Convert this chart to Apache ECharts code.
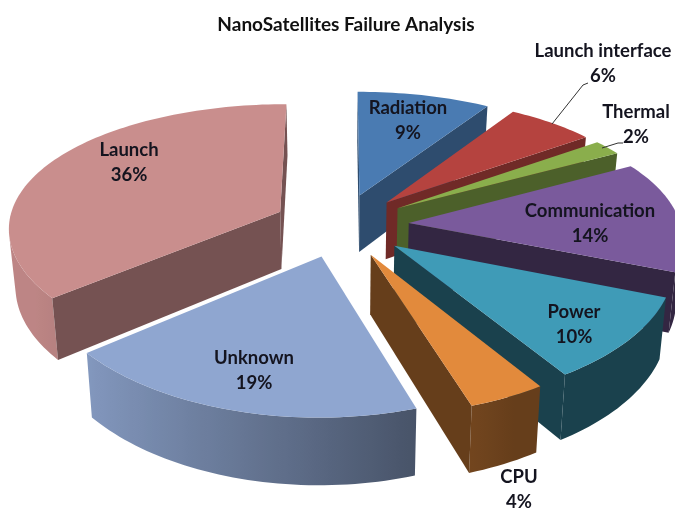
<!DOCTYPE html>
<html>
<head>
<meta charset="utf-8">
<script src="https://cdn.jsdelivr.net/npm/echarts@6/dist/echarts.min.js"></script>
<style>
html, body { margin: 0; padding: 0; background: #fff; }
#chart { width: 675px; height: 511px; }
</style>
</head>
<body>
<div id="chart"></div>
<script>
const categories = ['Radiation', 'Launch interface', 'Thermal', 'Communication', 'Power', 'CPU', 'Unknown', 'Launch']
const values = [9, 6, 2, 14, 10, 4, 19, 36]

const topColors = ['#4a7bb2', '#b5433f', '#8aae4c', '#7a5a9c', '#3f9bb7', '#e28a3c', '#8fa6d0', '#c98e8d']
const wallFloor = [0.62, 0.62, 0.55, 0.42, 0.42, 0.45, 0.45, 0.58]
const labelPos = [[408, 121], [603, 64], [636, 125], [590, 224], [574, 325], [519, 490], [254, 371], [129, 163]]

// projection of the tilted pie
const cx = 341, cy = 225, rx = 272, ry = 127, perspX = 0.115, perspY = 0.147, explode = 0.25, depth = 58

const total = values.reduce((a, b) => a + b, 0)
let acc = 0
const slices = values.map((v, i) => {
  const a0 = acc / total * Math.PI * 2
  acc += v
  const a1 = acc / total * Math.PI * 2
  const mid = (a0 + a1) / 2
  return {i, a0, a1, ox: Math.sin(mid) * explode, oy: Math.cos(mid) * explode}
})
// back slices are painted first
const drawOrder = slices.slice().sort((a, b) => b.oy - a.oy).map(s => s.i)

function project(X, Y, low) {
  const sx = 1 / (1 + perspX * Y)
  const sy = 1 / (1 + perspY * Y)
  let x = cx + rx * X * sx
  let y = cy - ry * Y * sy
  if (low) {
    x = cx + (x - cx) * 0.98
    y += depth * sx
  }
  return [x, y]
}

function shade(hex, f) {
  const n = parseInt(hex.slice(1), 16)
  const c = [n >> 16, (n >> 8) & 255, n & 255].map(v => Math.round(v * f))
  return 'rgb(' + c.join(',') + ')'
}

function area(p) {
  let t = 0
  for (let i = 0; i < p.length; i++) {
    const q = p[(i + 1) % p.length]
    t += p[i][0] * q[1] - q[0] * p[i][1]
  }
  return t / 2
}

function wallShade(idx, a) {
  // outer wall is lit from the left
  return Math.max(wallFloor[idx], Math.min(0.94, 0.62 - 0.38 * Math.sin(a)))
}

function renderSlice(params, api) {
  const idx = api.value(0)
  const s = slices[idx]
  const top = topColors[idx]
  const children = []
  const steps = Math.max(4, Math.round((s.a1 - s.a0) * 40))

  const rim = []
  for (let k = 0; k <= steps; k++) {
    const a = s.a0 + (s.a1 - s.a0) * k / steps
    rim.push([s.ox + Math.sin(a), s.oy + Math.cos(a), a])
  }

  // only the part of the outer wall that faces us
  const front = []
  for (let k = 0; k < steps; k++) {
    const p = rim[k], q = rim[k + 1]
    const pts = [project(p[0], p[1]), project(p[0], p[1], true), project(q[0], q[1], true), project(q[0], q[1])]
    if (area(pts) > 0) {
      if (!front.length) front.push(p)
      front.push(q)
    }
  }
  if (front.length > 1) {
    const upper = front.map(p => project(p[0], p[1]))
    const lower = front.map(p => project(p[0], p[1], true)).reverse()
    const xs = upper.map(p => p[0])
    const x0 = Math.min.apply(null, xs), x1 = Math.max.apply(null, xs)
    const stops = front.map((p, k) => ({
      offset: (xs[k] - x0) / Math.max(x1 - x0, 1),
      color: shade(top, wallShade(idx, p[2]))
    })).sort((a, b) => a.offset - b.offset)
    children.push({
      type: 'polygon',
      shape: {points: upper.concat(lower)},
      style: {fill: new echarts.graphic.LinearGradient(x0, 0, x1, 0, stops, true)}
    })
  }

  // the two cut faces
  const first = rim[0], last = rim[steps]
  const faces = [
    [project(s.ox, s.oy), project(s.ox, s.oy, true), project(first[0], first[1], true), project(first[0], first[1])],
    [project(s.ox, s.oy), project(last[0], last[1]), project(last[0], last[1], true), project(s.ox, s.oy, true)]
  ]
  faces.forEach(pts => {
    if (area(pts) > 0) {
      children.push({type: 'polygon', shape: {points: pts}, style: {fill: shade(top, wallFloor[idx])}})
    }
  })

  const cap = [project(s.ox, s.oy)].concat(rim.map(p => project(p[0], p[1])))
  children.push({type: 'polygon', shape: {points: cap}, style: {fill: top}})
  return {type: 'group', children: children}
}

const textElements = categories.map((name, i) => ({
  type: 'text',
  x: labelPos[i][0],
  y: labelPos[i][1],
  z: 10,
  style: {
    text: name + '\n' + values[i] + '%',
    font: 'bold 18.5px Lato, "Open Sans", sans-serif',
    lineHeight: 25,
    fill: '#14141f',
    align: 'center',
    verticalAlign: 'middle'
  }
}))

const leaderLines = [
  [[552, 124], [583, 85], [588, 83]],
  [[602, 148], [618, 143], [623, 143]]
].map(points => ({
  type: 'polyline',
  z: 10,
  shape: {points: points},
  style: {stroke: '#333', lineWidth: 1, fill: null}
}))

const myChart = echarts.init(document.getElementById('chart'))
myChart.setOption({
  animation: false,
  backgroundColor: '#fff',
  title: {
    text: 'NanoSatellites Failure Analysis',
    left: 341,
    top: 10,
    textAlign: 'center',
    textStyle: {fontFamily: 'Lato', fontWeight: 'bold', fontSize: 19, color: '#111'}
  },
  series: [{
    type: 'custom',
    coordinateSystem: 'none',
    renderItem: renderSlice,
    data: drawOrder.map(i => [i, values[i]])
  }],
  graphic: {elements: textElements.concat(leaderLines)}
})
</script>
</body>
</html>
